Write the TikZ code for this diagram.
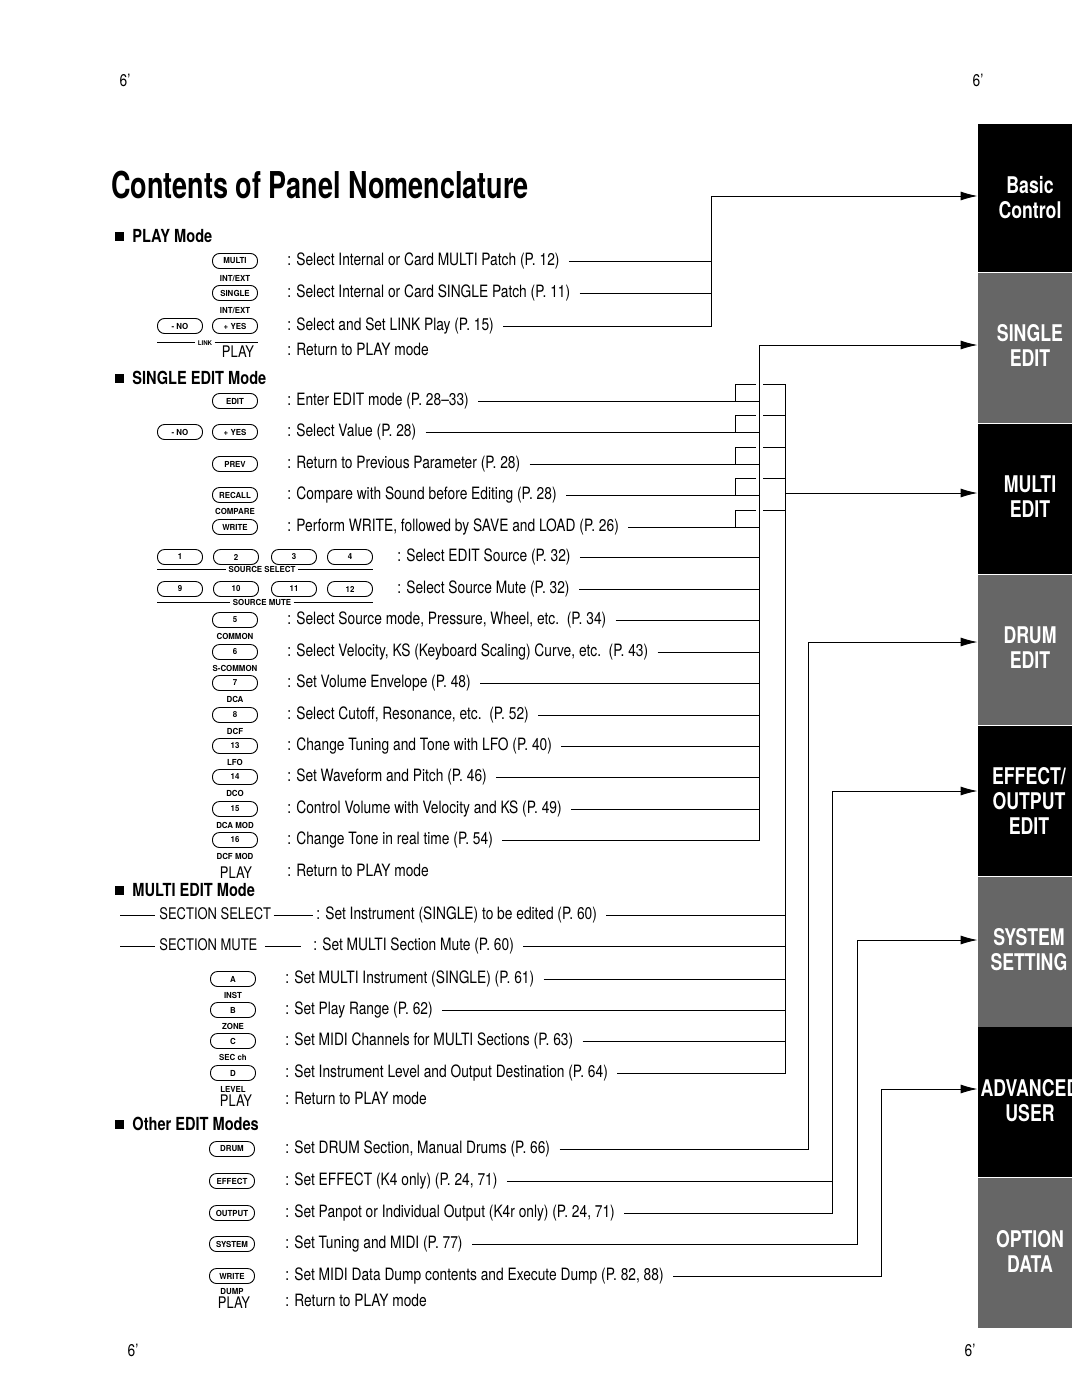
\documentclass[tikz,border=0pt]{standalone}
\usepackage{fontspec}
\setmainfont{TeX Gyre Heros}[FakeStretch=0.81]
\newfontfamily\titlefont{TeX Gyre Heros}[FakeStretch=0.73]
\newfontfamily\tabfont{TeX Gyre Heros}[FakeStretch=0.77]
\newfontfamily\keyfont{TeX Gyre Heros}[FakeStretch=0.95]
\usetikzlibrary{arrows.meta}
\usetikzlibrary{positioning}

\begin{document}
\begin{tikzpicture}[x=1pt,y=-1pt,line width=0.9pt,every node/.style={inner sep=0pt},
  btn/.style={draw,rounded corners=7pt,minimum width=45pt,minimum height=15pt,font=\keyfont\bfseries\fontsize{8.3}{9}\selectfont},
  sub/.style={text height=6.5pt,text depth=0pt,font=\keyfont\bfseries\fontsize{8.3}{9}\selectfont},
  txt/.style={anchor=west,text height=12pt,text depth=3pt,font=\fontsize{17}{18}\selectfont},
  play/.style={text height=12pt,text depth=0pt,font=\fontsize{16}{18}\selectfont},
  head/.style={anchor=west,font=\bfseries\fontsize{18}{20}\selectfont},
  sq/.style={fill,minimum size=9pt},
  corner/.style={font=\fontsize{17}{17}\selectfont},
  tabdark/.style={fill=black,minimum width=94pt,minimum height=150pt},
  tablight/.style={tabdark,fill=black!60},
  tabtxt/.style={text=white,align=center,font=\tabfont\bfseries\fontsize{23}{25}\selectfont},
  arr/.style={-{Latex[length=17pt,width=9pt]}}]
  \useasboundingbox (0,0) rectangle (1080,1400);

  \node[corner] (c1) at (125,80) {6'};
  \node[corner] (c2) at (978,80) {6'};
  \node[corner] (c3) at (133,1350) {6'};
  \node[corner] (c4) at (970,1350) {6'};

  \node[anchor=west,font=\titlefont\bfseries\fontsize{37}{40}\selectfont] (ttl) at (111,185) {Contents of Panel Nomenclature};

  % tabs
  \node[tabdark,minimum height=148pt] (tabA) at (1025,198) {};
  \node[tablight,below=0pt of tabA] (tabB) {};
  \node[tabdark,below=0pt of tabB] (tabC) {};
  \node[tablight,below=0pt of tabC] (tabD) {};
  \node[tabdark,below=0pt of tabD] (tabE) {};
  \node[tablight,below=0pt of tabE] (tabF) {};
  \node[tabdark,below=0pt of tabF] (tabG) {};
  \node[tablight,below=0pt of tabG] (tabH) {};
  \node[tabtxt] (tA) at ([xshift=5pt]tabA.center) {Basic\\Control};
  \node[tabtxt] (tB) at ([xshift=5pt,yshift=2pt]tabB.center) {SINGLE\\EDIT};
  \node[tabtxt] (tC) at ([xshift=5pt,yshift=2pt]tabC.center) {MULTI\\EDIT};
  \node[tabtxt] (tD) at ([xshift=5pt,yshift=2pt]tabD.center) {DRUM\\EDIT};
  \node[tabtxt] (tE) at ([xshift=4pt]tabE.center) {EFFECT/\\OUTPUT\\EDIT};
  \node[tabtxt] (tF) at ([xshift=4pt,yshift=2pt]tabF.center) {SYSTEM\\SETTING};
  \node[tabtxt] (tG) at ([xshift=5pt,yshift=2pt]tabG.center) {ADVANCED\\USER};
  \node[tabtxt] (tH) at ([xshift=5pt,yshift=2pt]tabH.center) {OPTION\\DATA};

  % PLAY mode
  \node[sq] (s1) at (119,236) {};
  \node[head] (h1) at (132,236) {PLAY Mode};
  \node[btn] (b1) at (235,261) {MULTI};
  \node[sub,below=6pt of b1] (b1l) {INT/EXT};
  \node[txt] (r1) at (287,261) {: Select Internal or Card MULTI Patch (P. 12)};
  \node[btn] (b2) at (235,293) {SINGLE};
  \node[sub,below=6pt of b2] (b2l) {INT/EXT};
  \node[txt] (r2) at (287,293) {: Select Internal or Card SINGLE Patch (P. 11)};
  \node[btn] (b3a) at (180,326) {- NO};
  \node[btn] (b3b) at (235,326) {+ YES};
  \node[sub,font=\keyfont\bfseries\fontsize{6.5}{7}\selectfont] (lnk) at (205,342) {LINK};
  \draw (lnk.west -| b3a.west) -- ([xshift=-2pt]lnk.west);
  \draw ([xshift=2pt]lnk.east) -- (lnk.east -| b3b.east);
  \node[txt] (r3) at (287,326) {: Select and Set LINK Play (P. 15)};
  \node[play] (p1) at (238,351) {PLAY};
  \node[txt] (r4) at (287,351) {: Return to PLAY mode};

  % SINGLE EDIT mode
  \node[sq] (s2) at (119,378) {};
  \node[head] (h2) at (132,378) {SINGLE EDIT Mode};
  \node[btn] (b5) at (235,401) {EDIT};
  \node[txt] (r5) at (287,401) {: Enter EDIT mode (P. 28--33)};
  \node[btn] (b6a) at (180,432) {- NO};
  \node[btn] (b6b) at (235,432) {+ YES};
  \node[txt] (r6) at (287,432) {: Select Value (P. 28)};
  \node[btn] (b7) at (235,464) {PREV};
  \node[txt] (r7) at (287,464) {: Return to Previous Parameter (P. 28)};
  \node[btn] (b8) at (235,495) {RECALL};
  \node[sub,below=5pt of b8] (b8l) {COMPARE};
  \node[txt] (r8) at (287,495) {: Compare with Sound before Editing (P. 28)};
  \node[btn] (b9) at (235,527) {WRITE};
  \node[txt] (r9) at (287,527) {: Perform WRITE, followed by SAVE and LOAD (P. 26)};
  \node[btn] (b10a) at (180,557) {1};
  \node[btn] (b10b) at (236,557) {2};
  \node[btn] (b10c) at (294,557) {3};
  \node[btn] (b10d) at (350,557) {4};
  \node[sub] (srcsel) at (262,569) {SOURCE SELECT};
  \draw (srcsel.west -| b10a.west) -- ([xshift=-2pt]srcsel.west);
  \draw ([xshift=2pt]srcsel.east) -- (srcsel.east -| b10d.east);
  \node[txt] (r10) at (397,557) {: Select EDIT Source (P. 32)};
  \node[btn] (b11a) at (180,589) {9};
  \node[btn] (b11b) at (236,589) {10};
  \node[btn] (b11c) at (294,589) {11};
  \node[btn] (b11d) at (350,589) {12};
  \node[sub] (srcmute) at (262,602) {SOURCE MUTE};
  \draw (srcmute.west -| b11a.west) -- ([xshift=-2pt]srcmute.west);
  \draw ([xshift=2pt]srcmute.east) -- (srcmute.east -| b11d.east);
  \node[txt] (r11) at (397,589) {: Select Source Mute (P. 32)};
  \node[btn] (b12) at (235,620) {5};
  \node[sub,below=5pt of b12] (b12l) {COMMON};
  \node[txt] (r12) at (287,620) {: Select Source mode, Pressure, Wheel, etc.\ \ (P. 34)};
  \node[btn] (b13) at (235,652) {6};
  \node[sub,below=5pt of b13] (b13l) {S-COMMON};
  \node[txt] (r13) at (287,652) {: Select Velocity, KS (Keyboard Scaling) Curve, etc.\ \ (P. 43)};
  \node[btn] (b14) at (235,683) {7};
  \node[sub,below=5pt of b14] (b14l) {DCA};
  \node[txt] (r14) at (287,683) {: Set Volume Envelope (P. 48)};
  \node[btn] (b15) at (235,715) {8};
  \node[sub,below=5pt of b15] (b15l) {DCF};
  \node[txt] (r15) at (287,715) {: Select Cutoff, Resonance, etc.\ \ (P. 52)};
  \node[btn] (b16) at (235,746) {13};
  \node[sub,below=5pt of b16] (b16l) {LFO};
  \node[txt] (r16) at (287,746) {: Change Tuning and Tone with LFO (P. 40)};
  \node[btn] (b17) at (235,777) {14};
  \node[sub,below=5pt of b17] (b17l) {DCO};
  \node[txt] (r17) at (287,777) {: Set Waveform and Pitch (P. 46)};
  \node[btn] (b18) at (235,809) {15};
  \node[sub,below=5pt of b18] (b18l) {DCA MOD};
  \node[txt] (r18) at (287,809) {: Control Volume with Velocity and KS (P. 49)};
  \node[btn] (b19) at (235,840) {16};
  \node[sub,below=5pt of b19] (b19l) {DCF MOD};
  \node[txt] (r19) at (287,840) {: Change Tone in real time (P. 54)};
  \node[play] (p2) at (236,872) {PLAY};
  \node[txt] (r20) at (287,872) {: Return to PLAY mode};

  % MULTI EDIT mode
  \node[sq] (s3) at (119,890) {};
  \node[head] (h3) at (132,890) {MULTI EDIT Mode};
  \coordinate (q21) at (120,915);
  \node[txt,font=\fontsize{16}{18}\selectfont] (sec1) at (159,915) {SECTION SELECT};
  \node[txt] (r21) at (316,915) {: Set Instrument (SINGLE) to be edited (P. 60)};
  \draw (q21) -- ([xshift=-4pt]sec1.west);
  \draw ([xshift=2pt]sec1.east) -- ([xshift=-3pt]r21.west);
  \coordinate (q22) at (120,946);
  \node[txt,font=\fontsize{16}{18}\selectfont] (sec2) at (159,946) {SECTION MUTE};
  \node[txt] (r22) at (313,946) {: Set MULTI Section Mute (P. 60)};
  \draw (q22) -- ([xshift=-4pt]sec2.west);
  \draw ([xshift=7pt]sec2.east) -- ([xshift=-12pt]r22.west);
  \node[btn] (b23) at (233,979) {A};
  \node[sub,below=5pt of b23] (b23l) {INST};
  \node[txt] (r23) at (285,979) {: Set MULTI Instrument (SINGLE) (P. 61)};
  \node[btn] (b24) at (233,1010) {B};
  \node[sub,below=5pt of b24] (b24l) {ZONE};
  \node[txt] (r24) at (285,1010) {: Set Play Range (P. 62)};
  \node[btn] (b25) at (233,1041) {C};
  \node[sub,below=5pt of b25] (b25l) {SEC ch};
  \node[txt] (r25) at (285,1041) {: Set MIDI Channels for MULTI Sections (P. 63)};
  \node[btn] (b26) at (233,1073) {D};
  \node[sub,below=5pt of b26] (b26l) {LEVEL};
  \node[txt] (r26) at (285,1073) {: Set Instrument Level and Output Destination (P. 64)};
  \node[play] (p3) at (236,1100) {PLAY};
  \node[txt] (r27) at (285,1100) {: Return to PLAY mode};

  % other EDIT modes
  \node[sq] (s4) at (119,1124) {};
  \node[head] (h4) at (132,1124) {Other EDIT Modes};
  \node[btn] (b28) at (232,1149) {DRUM};
  \node[txt] (r28) at (285,1149) {: Set DRUM Section, Manual Drums (P. 66)};
  \node[btn] (b29) at (232,1181) {EFFECT};
  \node[txt] (r29) at (285,1181) {: Set EFFECT (K4 only) (P. 24, 71)};
  \node[btn] (b30) at (232,1213) {OUTPUT};
  \node[txt] (r30) at (285,1213) {: Set Panpot or Individual Output (K4r only) (P. 24, 71)};
  \node[btn] (b31) at (232,1244) {SYSTEM};
  \node[txt] (r31) at (285,1244) {: Set Tuning and MIDI (P. 77)};
  \node[btn] (b32) at (232,1276) {WRITE};
  \node[sub,below=4pt of b32] (b32l) {DUMP};
  \node[txt] (r32) at (285,1276) {: Set MIDI Data Dump contents and Execute Dump (P. 82, 88)};
  \node[play] (p4) at (234,1302) {PLAY};
  \node[txt] (r33) at (285,1302) {: Return to PLAY mode};

  % Basic Control
  \coordinate (bA) at (711,196);
  \draw[arr] ([xshift=9pt]r3.east) -| (bA) -- (bA -| tabA.west);
  \draw ([xshift=9pt]r1.east) -- (r1 -| bA);
  \draw ([xshift=9pt]r2.east) -- (r2 -| bA);

  % SINGLE EDIT
  \coordinate (bB) at (759,345);
  \draw[arr] ([xshift=9pt]r19.east) -| (bB) -- (bB -| tabB.west);
  \draw ([xshift=9pt]r5.east) -- (r5 -| bB);
  \draw ([xshift=9pt]r6.east) -- (r6 -| bB);
  \draw ([xshift=9pt]r7.east) -- (r7 -| bB);
  \draw ([xshift=9pt]r8.east) -- (r8 -| bB);
  \draw ([xshift=9pt]r9.east) -- (r9 -| bB);
  \draw ([xshift=9pt]r10.east) -- (r10 -| bB);
  \draw ([xshift=9pt]r11.east) -- (r11 -| bB);
  \draw ([xshift=9pt]r12.east) -- (r12 -| bB);
  \draw ([xshift=9pt]r13.east) -- (r13 -| bB);
  \draw ([xshift=9pt]r14.east) -- (r14 -| bB);
  \draw ([xshift=9pt]r15.east) -- (r15 -| bB);
  \draw ([xshift=9pt]r16.east) -- (r16 -| bB);
  \draw ([xshift=9pt]r17.east) -- (r17 -| bB);
  \draw ([xshift=9pt]r18.east) -- (r18 -| bB);

  % MULTI EDIT
  \coordinate (bC) at (785,493);
  \coordinate (hop) at (735,493);
  \coordinate (gapL) at (756,493);
  \coordinate (gapR) at (763,493);
  \draw[arr] (bC) -- (bC -| tabC.west);
  \draw ([xshift=9pt]r26.east) -| ([yshift=17pt]r5 -| bC) -- ([yshift=17pt]r5 -| gapR);
  \draw (r5 -| hop) -- ([yshift=17pt]r5 -| hop) -- ([yshift=17pt]r5 -| gapL);
  \draw (r6 -| hop) -- ([yshift=17pt]r6 -| hop) -- ([yshift=17pt]r6 -| gapL);
  \draw ([yshift=17pt]r6 -| gapR) -- ([yshift=17pt]r6 -| bC);
  \draw (r7 -| hop) -- ([yshift=17pt]r7 -| hop) -- ([yshift=17pt]r7 -| gapL);
  \draw ([yshift=17pt]r7 -| gapR) -- ([yshift=17pt]r7 -| bC);
  \draw (r8 -| hop) -- ([yshift=17pt]r8 -| hop) -- ([yshift=17pt]r8 -| gapL);
  \draw ([yshift=17pt]r8 -| gapR) -- ([yshift=17pt]r8 -| bC);
  \draw (r9 -| hop) -- ([yshift=17pt]r9 -| hop) -- ([yshift=17pt]r9 -| gapL);
  \draw ([yshift=17pt]r9 -| gapR) -- ([yshift=17pt]r9 -| bC);
  \draw ([xshift=9pt]r21.east) -- (r21 -| bC);
  \draw ([xshift=9pt]r22.east) -- (r22 -| bC);
  \draw ([xshift=9pt]r23.east) -- (r23 -| bC);
  \draw ([xshift=9pt]r24.east) -- (r24 -| bC);
  \draw ([xshift=9pt]r25.east) -- (r25 -| bC);

  % DRUM EDIT
  \coordinate (bD) at (808,642);
  \draw[arr] ([xshift=9pt]r28.east) -| (bD) -- (bD -| tabD.west);

  % EFFECT/OUTPUT EDIT
  \coordinate (bE) at (832,791);
  \draw[arr] ([xshift=9pt]r30.east) -| (bE) -- (bE -| tabE.west);
  \draw ([xshift=9pt]r29.east) -- (r29 -| bE);

  % SYSTEM SETTING
  \coordinate (bF) at (857,940);
  \draw[arr] ([xshift=9pt]r31.east) -| (bF) -- (bF -| tabF.west);

  % ADVANCED USER
  \coordinate (bG) at (881,1089);
  \draw[arr] ([xshift=9pt]r32.east) -| (bG) -- (bG -| tabG.west);
\end{tikzpicture}
\end{document}
